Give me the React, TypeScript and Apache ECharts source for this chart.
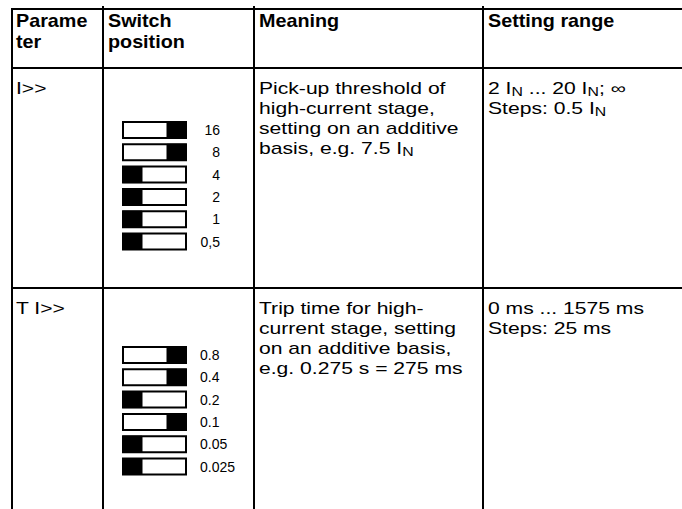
import React, { useEffect, useRef } from "react";
import * as echarts from "echarts";

// ---- table content ----
const headers: string[][] = [["Parame", "ter"], ["Switch", "position"], ["Meaning"], ["Setting range"]];
const parameters: string[] = ["I>>", "T I>>"];
const meanings: string[][] = [
  ["Pick-up threshold of", "high-current stage,", "setting on an additive", "basis, e.g. 7.5 I{sub|N}"],
  ["Trip time for high-", "current stage, setting", "on an additive basis,", "e.g. 0.275 s = 275 ms"],
];
const ranges: string[][] = [
  ["2 I{sub|N} ... 20 I{sub|N}; \u221e", "Steps: 0.5 I{sub|N}"],
  ["0 ms ... 1575 ms", "Steps: 25 ms"],
];
// switch labels and positions (true = lever at left / black on the left)
const switchLabels1: string[] = ["16", "8", "4", "2", "1", "0,5"];
const switchLeft1: boolean[] = [false, false, true, true, true, true];
const switchLabels2: string[] = ["0.8", "0.4", "0.2", "0.1", "0.05", "0.025"];
const switchLeft2: boolean[] = [false, false, true, false, true, true];

// ---- layout ----
const W = 682;
const H = 509;
const colX = [12, 103, 254, 483];
const rowY = [9, 68, 288];
const textX = [16, 108, 259, 488];
const FONT = "Liberation Sans, Arial, Helvetica, sans-serif";
const BODY_SIZE = 16;
const BODY_SCALE = 1.32;
const LINE_H = 20;

function buildGraphic() {
  const els: any[] = [];
  // horizontal rules
  rowY.forEach((y) => {
    els.push({ type: "line", shape: { x1: colX[0] - 1, y1: y, x2: W, y2: y }, style: { stroke: "#000", lineWidth: 2 } });
  });
  // vertical rules
  colX.forEach((x, i) => {
    els.push({ type: "line", shape: { x1: x, y1: i === 0 ? rowY[0] - 1 : 6, x2: x, y2: H }, style: { stroke: "#000", lineWidth: 2 } });
  });
  // headers
  headers.forEach((lines, i) => {
    els.push({
      type: "text",
      x: textX[i],
      y: rowY[0] + 0.5,
      scaleX: 1.04,
      style: { text: lines.join("\n"), font: `bold 19px ${FONT}`, fill: "#000", lineHeight: 21, verticalAlign: "top", align: "left" },
    });
  });
  const rich = { sub: { fontSize: 12, lineHeight: 11, verticalAlign: "bottom", fontFamily: FONT, fill: "#000" } };
  const bodyText = (x: number, y: number, text: string) => ({
    type: "text",
    x,
    y,
    scaleX: BODY_SCALE,
    style: { text, font: `${BODY_SIZE}px ${FONT}`, fill: "#000", lineHeight: LINE_H, verticalAlign: "top", align: "left", rich },
  });
  const rowTextTop = [78, 298];
  parameters.forEach((p, r) => {
    els.push(bodyText(textX[0], rowTextTop[r], p));
    els.push(bodyText(textX[2], rowTextTop[r], meanings[r].join("\n")));
    els.push(bodyText(textX[3], rowTextTop[r], ranges[r].join("\n")));
  });
  // switches
  const swX = 123;
  const swW = 63;
  const swH = 16;
  const knobW = 19;
  const pitch = 22.3;
  const blocks = [
    { top: 122, labels: switchLabels1, left: switchLeft1, labelX: 220, labelAlign: "right" },
    { top: 347, labels: switchLabels2, left: switchLeft2, labelX: 200, labelAlign: "left" },
  ];
  blocks.forEach((b) => {
    b.labels.forEach((lab, i) => {
      const y = b.top + i * pitch;
      els.push({ type: "rect", shape: { x: swX, y, width: swW, height: swH }, style: { fill: "#fff", stroke: "#000", lineWidth: 2 } });
      els.push({
        type: "rect",
        shape: { x: b.left[i] ? swX : swX + swW - knobW, y, width: knobW, height: swH },
        style: { fill: "#000", stroke: "#000", lineWidth: 1 },
      });
      els.push({
        type: "text",
        x: b.labelX,
        y: y + swH / 2,
        style: { text: lab, font: `14px ${FONT}`, fill: "#000", align: b.labelAlign, verticalAlign: "middle" },
      });
    });
  });
  return els;
}

export default function App() {
  const ref = useRef<HTMLDivElement>(null);
  useEffect(() => {
    if (!ref.current) return;
    const chart = echarts.init(ref.current, undefined, { renderer: "svg" });
    chart.setOption({
      animation: false,
      backgroundColor: "#fff",
      graphic: { elements: buildGraphic() },
    });
    return () => chart.dispose();
  }, []);
  return <div ref={ref} style={{ position: "fixed", left: 0, top: 0, width: W, height: H }} />;
}
